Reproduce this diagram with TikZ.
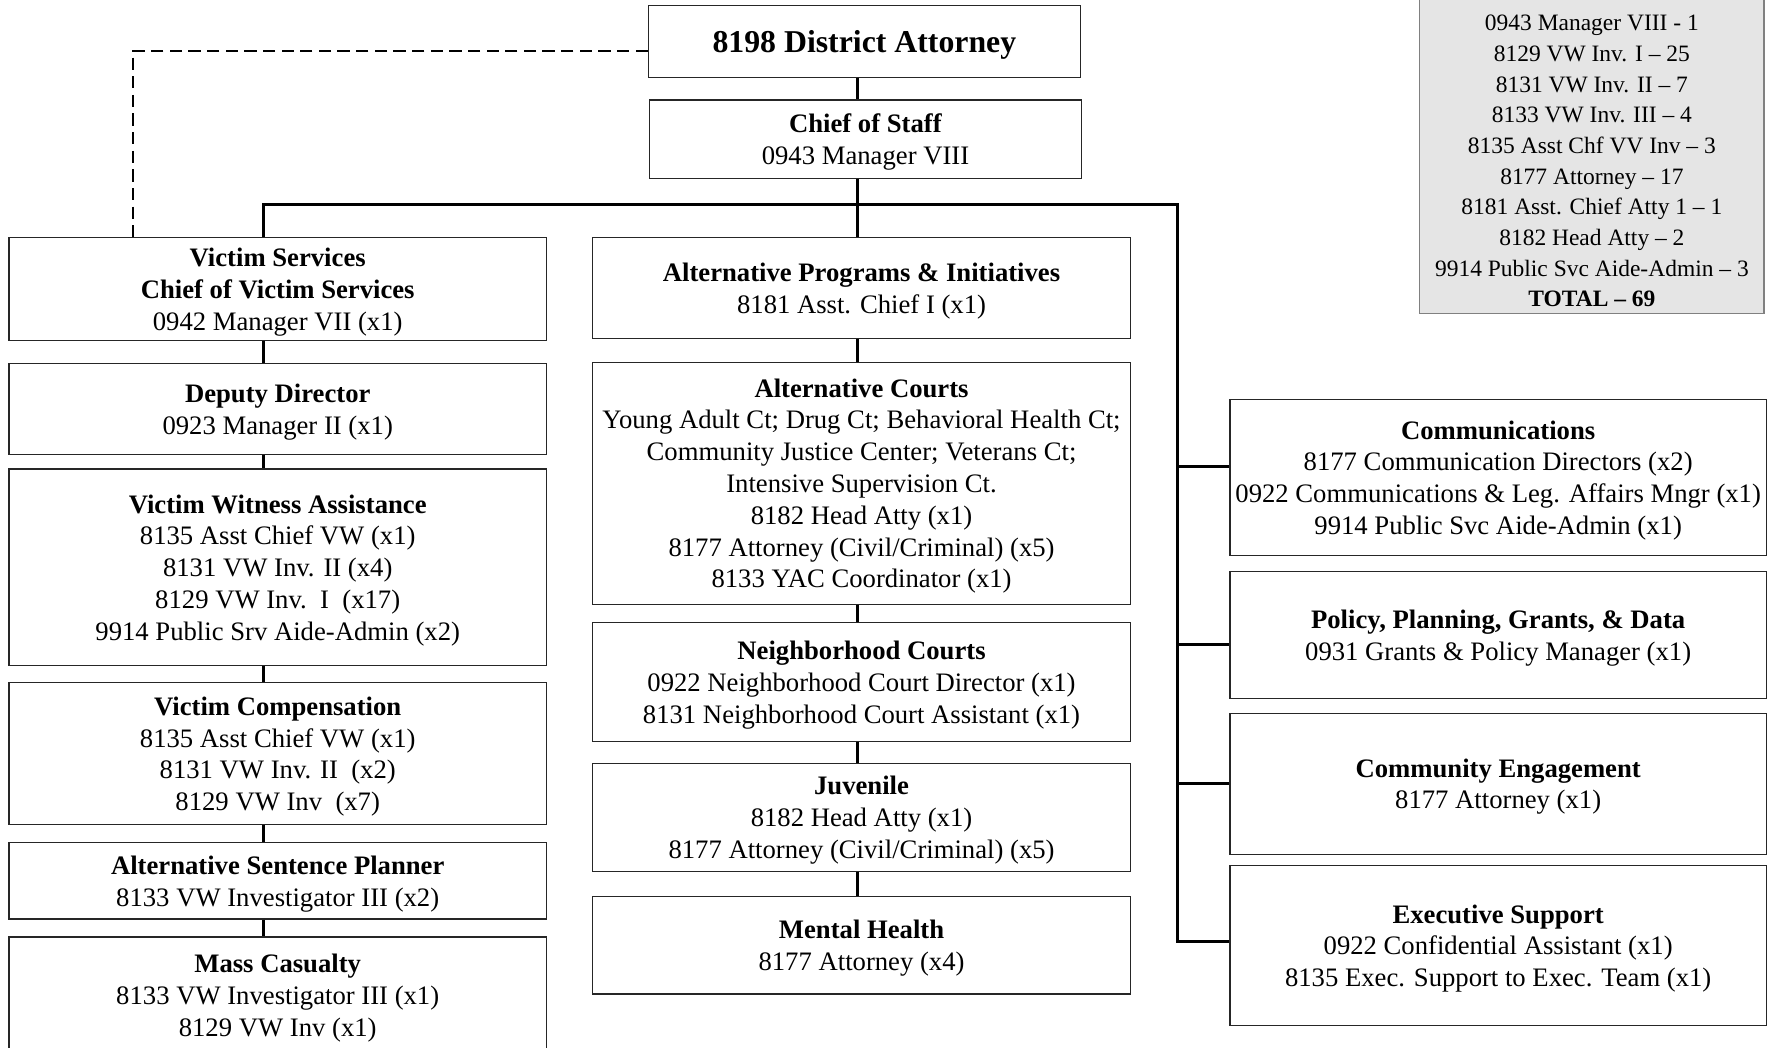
\documentclass[tikz,border=0pt]{standalone}
\usepackage{fontspec}
\setmainfont{Liberation Serif}
\usepackage{tikz}
\tikzset{org box/.style={rectangle,fill=white,draw=black!85,line width=0.8pt,minimum width=11.825cm,inner sep=0pt,align=center,font=\fontsize{16.7}{19.9}\selectfont,text depth=-2pt},}
\tikzset{top box/.style={org box,minimum width=9.5cm},}
\tikzset{tot text/.style={inner sep=0pt,align=center,font=\fontsize{14.7}{19.2}\selectfont},}
\tikzstyle{link} = [line width=1.5pt]
\tikzstyle{bus} = [line width=1.9pt]
\tikzstyle{dashlink} = [line width=1.4pt,dash pattern=on 0.27cm off 0.14cm]

\begin{document}
\begin{tikzpicture}[x=0.025cm,y=-0.025cm]
  \useasboundingbox (0,0) rectangle (1568,922);
    % position totals
    \draw[fill=black!10,draw=black!50,line width=0.8pt] (1250,-30) rectangle (1553,276);
    \node[tot text] (0) at (1401.5,142) {0943 Manager VIII - 1\\8129 VW Inv. I – 25\\8131 VW Inv. II – 7\\8133 VW Inv. III – 4\\8135 Asst Chf VV Inv – 3\\8177 Attorney – 17\\8181 Asst. Chief Atty 1 – 1\\8182 Head Atty – 2\\9914 Public Svc Aide-Admin – 3\\\textbf{TOTAL – 69}};

    \node[top box,minimum height=1.575cm,font=\fontsize{19.9}{24}\selectfont\bfseries] (1) at (761,36.5) {8198 District Attorney};
    \node[top box,minimum height=1.725cm] (2) at (762,122.5) {\textbf{Chief of Staff}\\0943 Manager VIII};

    % victim services column
    \node[org box,minimum height=2.275cm] (3) at (244.5,254.5) {\textbf{Victim Services}\\\textbf{Chief of Victim Services}\\0942 Manager VII (x1)};
    \node[org box,minimum height=2cm] (4) at (244.5,360) {\textbf{Deputy Director}\\0923 Manager II (x1)};
    \node[org box,minimum height=4.325cm] (5) at (244.5,499.5) {\textbf{Victim Witness Assistance}\\8135 Asst Chief VW (x1)\\8131 VW Inv. II (x4)\\8129 VW Inv.~~I~~(x17)\\9914 Public Srv Aide-Admin (x2)};
    \node[org box,minimum height=3.125cm] (6) at (244.5,663.5) {\textbf{Victim Compensation}\\8135 Asst Chief VW (x1)\\8131 VW Inv. II~~(x2)\\8129 VW Inv~~(x7)};
    \node[org box,minimum height=1.675cm] (7) at (244.5,775.5) {\textbf{Alternative Sentence Planner}\\8133 VW Investigator III (x2)};
    \node[org box,minimum height=2.55cm] (8) at (244.5,876) {\textbf{Mass Casualty}\\8133 VW Investigator III (x1)\\8129 VW Inv (x1)};

    % alternative programs column
    \node[org box,minimum height=2.225cm] (9) at (758.5,253.5) {\textbf{Alternative Programs \& Initiatives}\\8181 Asst. Chief I (x1)};
    \node[org box,minimum height=5.325cm] (10) at (758.5,425.5) {\textbf{Alternative Courts}\\Young Adult Ct; Drug Ct; Behavioral Health Ct;\\Community Justice Center; Veterans Ct;\\Intensive Supervision Ct.\\8182 Head Atty (x1)\\8177 Attorney (Civil/Criminal) (x5)\\8133 YAC Coordinator (x1)};
    \node[org box,minimum height=2.625cm] (11) at (758.5,600.5) {\textbf{Neighborhood Courts}\\0922 Neighborhood Court Director (x1)\\8131 Neighborhood Court Assistant (x1)};
    \node[org box,minimum height=2.375cm] (12) at (758.5,719.5) {\textbf{Juvenile}\\8182 Head Atty (x1)\\8177 Attorney (Civil/Criminal) (x5)};
    \node[org box,minimum height=2.15cm] (13) at (758.5,832) {\textbf{Mental Health}\\8177 Attorney (x4)};

    % staff column
    \node[org box,minimum width=11.8cm,minimum height=3.425cm] (14) at (1319,420.5) {\textbf{Communications}\\8177 Communication Directors (x2)\\0922 Communications \& Leg. Affairs Mngr (x1)\\9914 Public Svc Aide-Admin (x1)};
    \node[org box,minimum width=11.8cm,minimum height=2.8cm] (15) at (1319,559) {\textbf{Policy, Planning, Grants, \& Data}\\0931 Grants \& Policy Manager (x1)};
    \node[org box,minimum width=11.8cm,minimum height=3.1cm] (16) at (1319,690) {\textbf{Community Engagement}\\8177 Attorney (x1)};
    \node[org box,minimum width=11.8cm,minimum height=3.525cm] (17) at (1319,832.5) {\textbf{Executive Support}\\0922 Confidential Assistant (x1)\\8135 Exec. Support to Exec. Team (x1)};

    \coordinate (b1) at (232,180);
    \coordinate (b2) at (755,180);
    \coordinate (b3) at (1037,180);
    \coordinate (c14) at ([yshift=0.24cm]14.west);
    \coordinate (c15) at ([yshift=-0.2cm]15.west);
    \coordinate (c17) at ([yshift=0.09cm]17.west);

    \draw [dashlink] ([yshift=-0.21cm]1.west) -| ([xshift=-3.19cm]3.north);
    \draw [link] (1.south -| b2) -- (2.north -| b2);
    \draw [bus] (3.north -| b1) -- (b1) -- (b3) -- (c17 -| b3) -- (c17);
    \draw [bus] (2.south -| b2) -- (9.north -| b2);
    \draw [bus] (c14 -| b3) -- (c14);
    \draw [bus] (c15 -| b3) -- (c15);
    \draw [bus] (16.west -| b3) -- (16.west);

    \draw [link] (3.south -| b1) -- (4.north -| b1);
    \draw [link] (4.south -| b1) -- (5.north -| b1);
    \draw [link] (5.south -| b1) -- (6.north -| b1);
    \draw [link] (6.south -| b1) -- (7.north -| b1);
    \draw [link] (7.south -| b1) -- (8.north -| b1);

    \draw [link] (9.south -| b2) -- (10.north -| b2);
    \draw [link] (10.south -| b2) -- (11.north -| b2);
    \draw [link] (11.south -| b2) -- (12.north -| b2);
    \draw [link] (12.south -| b2) -- (13.north -| b2);
\end{tikzpicture}
\end{document}
